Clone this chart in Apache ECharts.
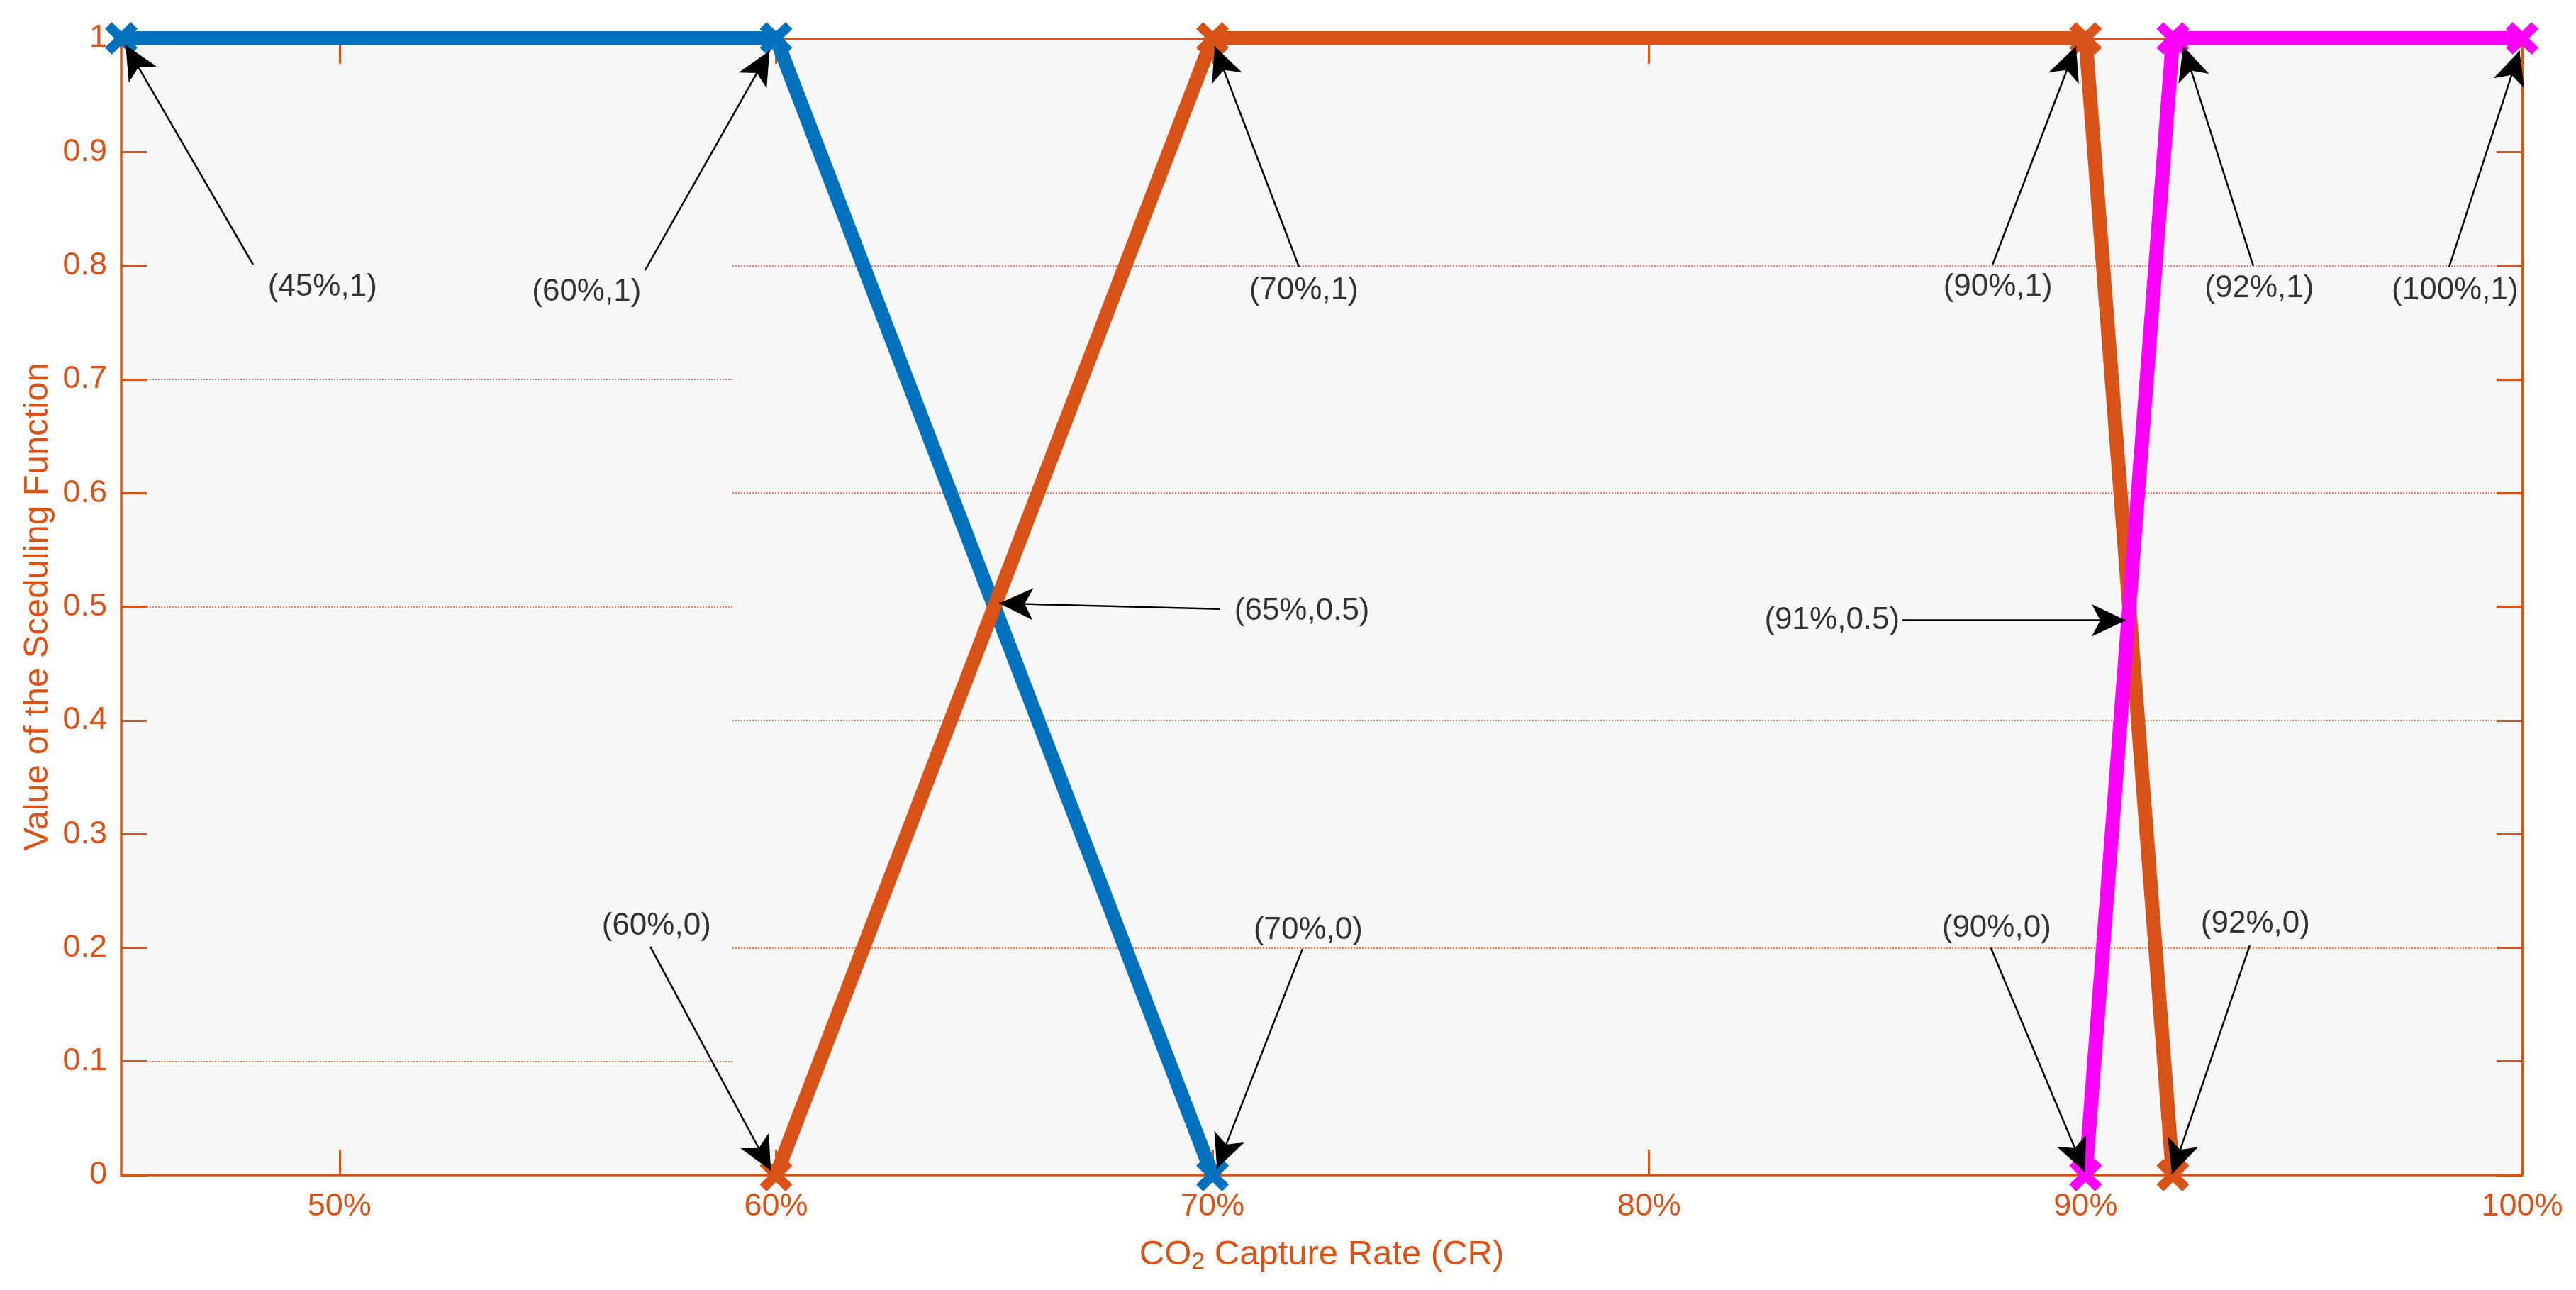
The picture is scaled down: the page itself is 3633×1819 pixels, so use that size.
<!DOCTYPE html>
<html>
<head>
<meta charset="utf-8">
<script src="https://cdn.jsdelivr.net/npm/echarts@6/dist/echarts.min.js"></script>
<style>
  html, body { margin: 0; padding: 0; background: #fff; }
  #chart { width: 3633px; height: 1819px; }
</style>
</head>
<body>
<div id="chart"></div>
<script>
  var FONT = '"Liberation Sans", Arial, Helvetica, sans-serif';
  var ORANGE = '#D95319';

  // scheduling functions: CO2 capture rate (%) -> value
  var lowCR = [45, 60, 70];
  var lowVal = [1, 1, 0];
  var midCR = [60, 70, 90, 92];
  var midVal = [0, 1, 1, 0];
  var highCR = [90, 92, 100];
  var highVal = [0, 1, 1];

  var xTicks = [50, 60, 70, 80, 90, 100];

  // text arrows (data units): label, arrow head, arrow tail, text anchor, text side
  var annoLabels = ['(45%,1)', '(60%,1)', '(70%,1)', '(90%,1)', '(92%,1)', '(100%,1)',
    '(65%,0.5)', '(91%,0.5)', '(60%,0)', '(70%,0)', '(90%,0)', '(92%,0)'];
  var annoHead = [[45.1, 0.994], [59.85, 0.989], [70.05, 0.993], [89.78, 0.993], [92.24, 0.993], [99.94, 0.989],
    [65.11, 0.503], [90.92, 0.488], [59.88, 0.004], [70.1, 0.006], [89.98, 0.003], [91.98, 0.001]];
  var annoTail = [[48.02, 0.801], [57.0, 0.796], [71.98, 0.799], [87.87, 0.801], [93.84, 0.8], [98.33, 0.799],
    [70.16, 0.498], [85.8, 0.488], [57.12, 0.201], [72.06, 0.199], [87.83, 0.2], [93.76, 0.202]];
  var annoText = [[48.35, 0.781], [56.92, 0.777], [70.83, 0.778], [89.25, 0.781], [92.72, 0.78], [99.92, 0.778],
    [70.49, 0.496], [85.75, 0.488], [57.26, 0.219], [72.19, 0.215], [87.96, 0.217], [93.89, 0.221]];
  var annoSide = ['right', 'left', 'right', 'left', 'right', 'left',
    'right', 'left', 'inside', 'inside', 'inside', 'inside'];

  // the grid lines in the source are only partly drawn
  var gridSplit = 59;
  var gridLeftY = [0.1, 0.5, 0.7];
  var gridRightY = [0.2, 0.4, 0.6, 0.8];

  var X_MARK = 'path://M0,21 L21,0 L50,29 L79,0 L100,21 L71,50 L100,79 L79,100 L50,71 L21,100 L0,79 L29,50 Z';

  function pairs(xs, ys) {
    return xs.map(function (x, i) { return [x, ys[i]]; });
  }

  var chart = echarts.init(document.getElementById('chart'));

  var gridLines = gridLeftY.map(function (y) {
    return [{ coord: [45, y] }, { coord: [gridSplit, y] }];
  }).concat(gridRightY.map(function (y) {
    return [{ coord: [gridSplit, y] }, { coord: [100, y] }];
  }));

  var arrows = annoHead.map(function (h, i) {
    return [
      { coord: annoTail[i], symbol: 'none' },
      { coord: h, symbol: 'arrow', symbolSize: [34, 48], symbolOffset: [0, 0] }
    ];
  });

  var textData = annoLabels.map(function (t, i) {
    return {
      name: t,
      value: annoText[i],
      label: { position: annoSide[i] }
    };
  });

  function fnSeries(name, data, color, z) {
    return {
      name: name,
      type: 'line',
      data: data,
      z: z,
      clip: false,
      symbol: X_MARK,
      symbolSize: 46,
      showSymbol: true,
      lineStyle: { color: color, width: 20, cap: 'butt', join: 'miter' },
      itemStyle: { color: color },
      emphasis: { disabled: true }
    };
  }

  var axisLineStyle = { color: ORANGE, width: 3.5 };

  var option = {
    animation: false,
    backgroundColor: '#ffffff',
    grid: {
      left: 171, right: 76, top: 54, bottom: 162,
      containLabel: false,
      show: true,
      backgroundColor: '#F7F7F7',
      borderWidth: 0
    },
    xAxis: [
      {
        type: 'value', min: 45, max: 100, position: 'bottom',
        name: 'CO{sub|2} Capture Rate (CR)',
        nameLocation: 'middle', nameGap: 84,
        nameTextStyle: {
          color: ORANGE, fontFamily: FONT, fontSize: 49,
          rich: { sub: { color: ORANGE, fontFamily: FONT, fontSize: 34, padding: [22, 0, 0, 0] } }
        },
        axisLine: { show: true, lineStyle: axisLineStyle },
        axisTick: { show: true, inside: true, length: 36, lineStyle: { color: ORANGE, width: 3 }, customValues: xTicks },
        axisLabel: {
          show: true, margin: 22, color: ORANGE, fontFamily: FONT, fontSize: 45,
          customValues: xTicks,
          formatter: function (v) { return v + '%'; }
        },
        splitLine: { show: false }
      },
      {
        type: 'value', min: 45, max: 100, position: 'top',
        axisLine: { show: true, onZero: false, lineStyle: { color: ORANGE, width: 3 } },
        axisTick: { show: true, inside: true, length: 36, lineStyle: { color: ORANGE, width: 3 }, customValues: xTicks },
        axisLabel: { show: false },
        splitLine: { show: false }
      }
    ],
    yAxis: [
      {
        type: 'value', min: 0, max: 1, interval: 0.1, position: 'left',
        name: 'Value of the Sceduling Function',
        nameLocation: 'middle', nameGap: 92,
        nameTextStyle: { color: ORANGE, fontFamily: FONT, fontSize: 49 },
        axisLine: { show: true, lineStyle: axisLineStyle },
        axisTick: { show: true, inside: true, length: 36, lineStyle: { color: ORANGE, width: 3 } },
        axisLabel: { show: true, margin: 20, color: ORANGE, fontFamily: FONT, fontSize: 45 },
        splitLine: { show: false }
      },
      {
        type: 'value', min: 0, max: 1, interval: 0.1, position: 'right',
        axisLine: { show: true, onZero: false, lineStyle: { color: ORANGE, width: 3 } },
        axisTick: { show: true, inside: true, length: 36, lineStyle: { color: ORANGE, width: 3 } },
        axisLabel: { show: false },
        splitLine: { show: false }
      }
    ],
    series: [
      {
        name: 'grid',
        type: 'line',
        data: [],
        silent: true,
        markLine: {
          silent: true,
          z: 1,
          symbol: ['none', 'none'],
          label: { show: false },
          lineStyle: { color: ORANGE, width: 2, type: [2, 2], opacity: 0.75 },
          emphasis: { disabled: true },
          data: gridLines
        }
      },
      fnSeries('low', pairs(lowCR, lowVal), '#0072BD', 3),
      fnSeries('mid', pairs(midCR, midVal), ORANGE, 4),
      fnSeries('high', pairs(highCR, highVal), '#FF00FF', 5),
      {
        name: 'notes',
        type: 'scatter',
        data: textData,
        z: 10,
        clip: false,
        silent: true,
        symbolSize: 1,
        itemStyle: { color: 'transparent' },
        label: {
          show: true,
          formatter: '{b}',
          distance: 0,
          color: '#000',
          fontFamily: FONT,
          fontSize: 44
        },
        markLine: {
          silent: true,
          z: 10,
          symbol: ['none', 'arrow'],
          label: { show: false },
          lineStyle: { color: '#000', width: 2.5, type: 'solid' },
          itemStyle: { color: '#000' },
          emphasis: { disabled: true },
          data: arrows
        }
      }
    ]
  };

  chart.setOption(option);
</script>
</body>
</html>
